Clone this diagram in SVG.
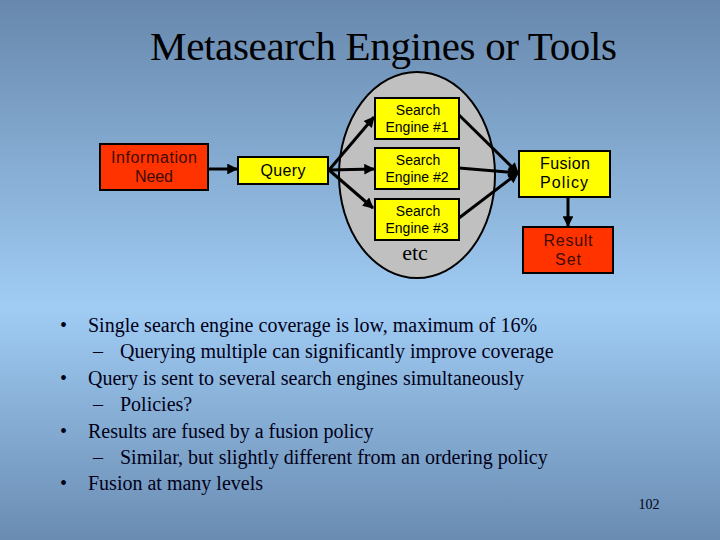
<svg xmlns="http://www.w3.org/2000/svg" width="720" height="540" viewBox="0 0 720 540">
<defs>
<linearGradient id="bg" x1="0" y1="0" x2="0" y2="1">
<stop offset="0" stop-color="#6888ad"/>
<stop offset="0.57" stop-color="#a0ccf4"/>
<stop offset="1" stop-color="#6a8cb2"/>
</linearGradient>
<marker id="ah" viewBox="0 0 10 10" refX="9" refY="5" markerWidth="4" markerHeight="3.6" orient="auto" markerUnits="strokeWidth">
<path d="M0,0 L10,5 L0,10 z" fill="#000"/>
</marker>
<style>
.red{fill:#ff3300;stroke:#000;stroke-width:2}
.yel{fill:#ffff00;stroke:#000;stroke-width:2}
.lbl{font-size:16px;text-anchor:middle}
.se{font-size:14px;fill:#000;text-anchor:middle}
.dk{fill:#3d0c02}
.con{stroke:#000;stroke-width:3;fill:none;marker-end:url(#ah)}
</style>
</defs>
<rect width="720" height="540" fill="url(#bg)"/>
<text x="383.5" y="60" font-family="'Liberation Serif','Times New Roman',serif" font-size="41" text-anchor="middle" fill="#000" textLength="467">Metasearch Engines or Tools</text>
<ellipse cx="417" cy="175" rx="78" ry="103" fill="#c0c0c0" stroke="#000" stroke-width="2"/>
<g id="connectors">
<line class="con" x1="208" y1="169" x2="237" y2="169"/>
<line class="con" x1="329" y1="170" x2="374" y2="117"/>
<line class="con" x1="329" y1="170" x2="374" y2="169"/>
<line class="con" x1="329" y1="170" x2="373" y2="208"/>
<line class="con" x1="459" y1="115" x2="518" y2="173"/>
<line class="con" x1="459" y1="168" x2="518" y2="173"/>
<line class="con" x1="459" y1="218" x2="518" y2="173"/>
<line class="con" x1="568" y1="197" x2="568" y2="226"/>
</g>
<g font-family="'Liberation Sans',Arial,sans-serif">
<g id="info"><rect class="red" x="100" y="144" width="108" height="46"/><text class="lbl dk" x="154" y="163" textLength="86">Information</text><text class="lbl dk" x="154" y="182" textLength="38">Need</text></g>
<g id="query"><rect class="yel" x="238" y="157" width="90" height="27"/><text class="lbl" x="283" y="176" textLength="45">Query</text></g>
<g id="se1"><rect class="yel" x="375" y="98" width="84" height="41"/><text class="se" x="418" y="115">Search</text><text class="se" x="417" y="132">Engine #1</text></g>
<g id="se2"><rect class="yel" x="375" y="148" width="84" height="41"/><text class="se" x="418" y="165">Search</text><text class="se" x="417" y="182">Engine #2</text></g>
<g id="se3"><rect class="yel" x="375" y="199" width="84" height="41"/><text class="se" x="418" y="216">Search</text><text class="se" x="417" y="233">Engine #3</text></g>
<g id="fusion"><rect class="yel" x="519" y="151" width="91" height="46"/><text class="lbl" x="565" y="169" textLength="50">Fusion</text><text class="lbl" x="564" y="188" textLength="48">Policy</text></g>
<g id="result"><rect class="red" x="523" y="227" width="90" height="46"/><text class="lbl dk" x="568" y="246" textLength="49">Result</text><text class="lbl dk" x="568" y="265" textLength="26">Set</text></g>
</g>
<text x="415" y="260" font-family="'Liberation Serif','Times New Roman',serif" font-size="22" text-anchor="middle" fill="#000">etc</text>
<g font-family="'Liberation Serif','Times New Roman',serif" font-size="20" fill="#000018">
<text x="60" y="332">•</text><text x="88" y="332">Single search engine coverage is low, maximum of 16%</text>
<text x="93" y="358">–</text><text x="120" y="358">Querying multiple can significantly improve coverage</text>
<text x="60" y="385">•</text><text x="88" y="385">Query is sent to several search engines simultaneously</text>
<text x="93" y="411">–</text><text x="120" y="411">Policies?</text>
<text x="60" y="438">•</text><text x="88" y="438">Results are fused by a fusion policy</text>
<text x="93" y="464">–</text><text x="120" y="464">Similar, but slightly different from an ordering policy</text>
<text x="60" y="490">•</text><text x="88" y="490">Fusion at many levels</text>
</g>
<text x="649" y="509" font-family="'Liberation Serif','Times New Roman',serif" font-size="14" text-anchor="middle" fill="#000018">102</text>
</svg>
